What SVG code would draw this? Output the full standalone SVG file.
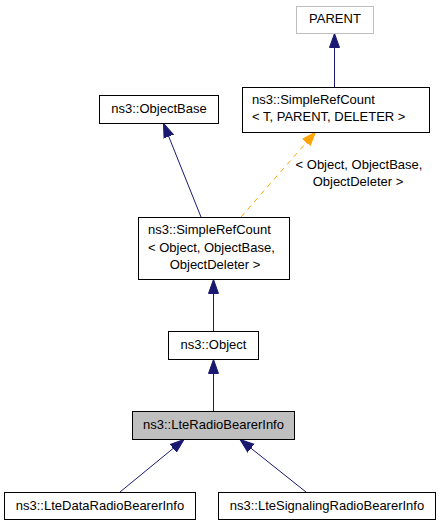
<svg xmlns="http://www.w3.org/2000/svg" width="440" height="525" viewBox="0 0 440 525">
<style>
.box{fill:#fff;stroke:#000;stroke-width:1}
.gray{fill:#fff;stroke:#bfbfbf;stroke-width:1}
.cur{fill:#bfbfbf;stroke:#000;stroke-width:1}
text{font-family:"Liberation Sans",Arial,sans-serif;font-size:13px;fill:#000}
.m{text-anchor:middle}
.e{fill:none;stroke:#191970;stroke-width:1}
.d{fill:none;stroke:#ffa500;stroke-width:1;stroke-dasharray:5,5}
</style>
<defs>
<marker id="ab" markerUnits="userSpaceOnUse" markerWidth="16" markerHeight="12" viewBox="0 -6 16 12" refX="14" refY="0" orient="auto">
<path d="M0,-5 L14,0 L0,5 Z" fill="#191970" stroke="#191970" stroke-width="1"/>
</marker>
<marker id="ao" markerUnits="userSpaceOnUse" markerWidth="16" markerHeight="12" viewBox="0 -6 16 12" refX="14" refY="0" orient="auto">
<path d="M0,-5 L14,0 L0,5 Z" fill="#ffa500" stroke="#ffa500" stroke-width="1"/>
</marker>
</defs>
<g id="edges">
<line class="e" x1="334.5" y1="87" x2="334.5" y2="33.5" marker-end="url(#ab)"/>
<line class="e" x1="201" y1="217" x2="163.5" y2="123.5" marker-end="url(#ab)"/>
<line class="d" x1="241" y1="217" x2="315.5" y2="132" marker-end="url(#ao)"/>
<text class="m" x="359" y="169">&lt; Object, ObjectBase,</text>
<text class="m" x="358" y="186">ObjectDeleter &gt;</text>
<line class="e" x1="213.5" y1="331" x2="213.5" y2="279.5" marker-end="url(#ab)"/>
<line class="e" x1="213.5" y1="411" x2="213.5" y2="359.5" marker-end="url(#ab)"/>
<line class="e" x1="120" y1="492" x2="184" y2="439.5" marker-end="url(#ab)"/>
<line class="e" x1="306" y1="492" x2="240" y2="439.5" marker-end="url(#ab)"/>
</g>
<g id="PARENT">
<rect class="gray" x="296.5" y="6.5" width="77" height="27"/>
<text class="m" x="335" y="23">PARENT</text>
</g>
<g id="SimpleRefCountT">
<rect class="box" x="242.5" y="87.5" width="187" height="45"/>
<text x="252" y="104">ns3::SimpleRefCount</text>
<text x="252" y="121">&lt; T, PARENT, DELETER &gt;</text>
</g>
<g id="ObjectBase">
<rect class="box" x="99.5" y="95.5" width="119" height="28"/>
<text class="m" x="159" y="113">ns3::ObjectBase</text>
</g>
<g id="SimpleRefCountObject">
<rect class="box" x="138.5" y="217.5" width="151" height="62"/>
<text x="148" y="234">ns3::SimpleRefCount</text>
<text x="148" y="251.5">&lt; Object, ObjectBase,</text>
<text class="m" x="215" y="269">ObjectDeleter &gt;</text>
</g>
<g id="Object">
<rect class="box" x="168.5" y="331.5" width="90" height="28"/>
<text class="m" x="213.5" y="349">ns3::Object</text>
</g>
<g id="LteRadioBearerInfo">
<rect class="cur" x="132.5" y="411.5" width="162" height="28"/>
<text class="m" x="213.5" y="429">ns3::LteRadioBearerInfo</text>
</g>
<g id="LteDataRadioBearerInfo">
<rect class="box" x="4.5" y="492.5" width="191" height="27"/>
<text class="m" x="100" y="509.5">ns3::LteDataRadioBearerInfo</text>
</g>
<g id="LteSignalingRadioBearerInfo">
<rect class="box" x="218.5" y="492.5" width="217" height="27"/>
<text class="m" x="327" y="509.5">ns3::LteSignalingRadioBearerInfo</text>
</g>
</svg>
